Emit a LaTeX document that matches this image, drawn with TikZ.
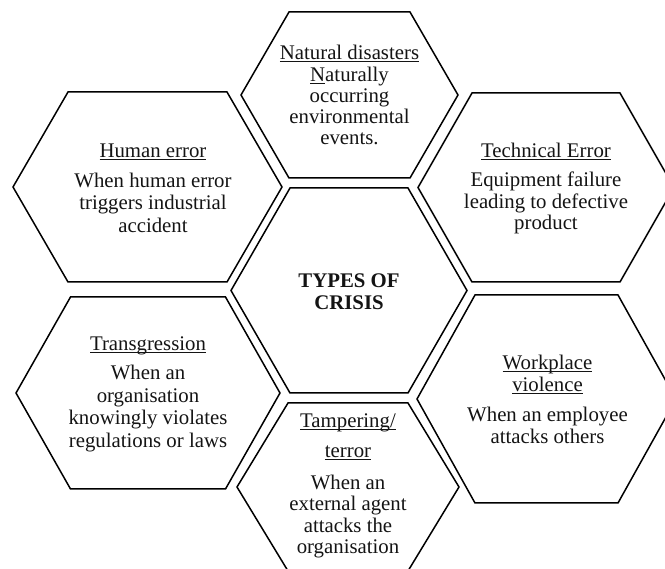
\documentclass[tikz,border=0pt]{standalone}
\usepackage{fontspec}
\setmainfont{Liberation Serif}
\usepackage{xcolor}
\definecolor{hexline}{RGB}{0,0,0}
\definecolor{hextext}{RGB}{20,20,20}
\usetikzlibrary{positioning}

% underline at a fixed depth
\newsavebox{\ulbox}
\newcommand{\titleul}[1]{\sbox{\ulbox}{#1}\rlap{\rule[-2.5pt]{\wd\ulbox}{1pt}}\usebox{\ulbox}}

% cx, cy, half width, half top edge, half height
\newcommand{\hexcell}[5]{%
  \draw[hexcellline] (#1-#3,#2) -- (#1-#4,#2-#5) -- (#1+#4,#2-#5) -- (#1+#3,#2)
    -- (#1+#4,#2+#5) -- (#1-#4,#2+#5) -- cycle;}

\begin{document}
\begin{tikzpicture}[x=1pt, y=-1pt,
    hexcellline/.style={hexline, line width=1.5pt, line join=miter},
    celltext/.style={hextext, align=center, inner sep=0pt, font=\fontsize{20.8}{22.5}\selectfont}]
  \clip (0,0) rectangle (665,569);
  \fill[white] (0,0) rectangle (665,569);

  % Hexagons
  \hexcell{349}{290.5}{118}{59}{102.5}   % centre
  \hexcell{349.5}{95}{108.5}{60.5}{83}   % top
  \hexcell{147.5}{187}{134.5}{79.5}{95}  % upper left
  \hexcell{546}{187.5}{128}{74}{94.5}    % upper right
  \hexcell{148}{393}{132}{77.5}{96}      % lower left
  \hexcell{546.5}{399}{129.5}{71.5}{104} % lower right
  \hexcell{348}{487}{111}{60}{84}        % bottom

  % Centre
  \node[celltext, font=\fontsize{20.8}{22.5}\selectfont\bfseries] (types) at (349,291.5) {TYPES OF\\CRISIS};

  % Top
  \node[celltext, font=\fontsize{20.8}{21}\selectfont] (natural) at (349.5,95)
       {\titleul{Natural disasters}\\[1pt]\titleul{N}aturally\\occurring\\environmental\\events.};

  % Upper left
  \node[celltext] (human) at (153,188.5)
       {\titleul{Human error}\\[7pt]When human error\\triggers industrial\\accident};

  % Upper right
  \node[celltext, font=\fontsize{20.8}{21.5}\selectfont] (technical) at (546,188.5)
       {\titleul{Technical Error}\\[8pt]Equipment failure\\leading to defective\\product};

  % Lower left
  \node[celltext] (transgression) at (148,394)
       {\titleul{Transgression}\\[7pt]When an\\organisation\\knowingly violates\\regulations or laws};

  % Lower right
  \node[celltext] (workplace) at (547.5,399.5)
       {\titleul{Workplace}\\\titleul{violence}\\[7pt]When an employee\\attacks others};

  % Bottom
  \node[celltext, font=\fontsize{20.8}{21.5}\selectfont] (tampering) at (348,486)
       {\titleul{Tampering/}\\[9pt]\titleul{terror}\\[10pt]When an\\external agent\\attacks the\\organisation};
\end{tikzpicture}
\end{document}
